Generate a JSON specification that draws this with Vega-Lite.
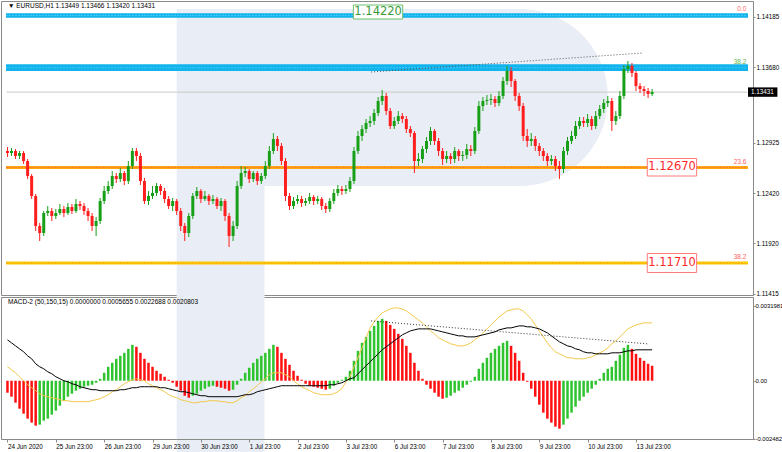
{
"$schema": "https://vega.github.io/schema/vega-lite/v6.json",
"padding": 0,
"background": "white",
"spacing": 2,
"bounds": "flush",
"config": {"view": {"stroke": "#8a8a8a", "strokeWidth": 1}, "axis": {"grid": false, "labelFont": "Liberation Sans", "labelFontSize": 6.3, "labelColor": "#000000", "domainColor": "#8a8a8a", "tickColor": "#8a8a8a"}},
"datasets": {"c": [
{"i":0,"o":1.12842,"h":1.12882,"l":1.12782,"c":1.12822,"m":-0.000512,"hd":"r","a":0.001748,"s":0.000597},
{"i":2,"o":1.12822,"h":1.12872,"l":1.12792,"c":1.12842,"m":-0.000682,"hd":"r","a":0.00162,"s":0.000469},
{"i":4,"o":1.12842,"h":1.12862,"l":1.12762,"c":1.12792,"m":-0.000938,"hd":"r","a":0.001492,"s":0.000341},
{"i":6,"o":1.12792,"h":1.12842,"l":1.12762,"c":1.12822,"m":-0.001194,"hd":"r","a":0.001364,"s":0.000171},
{"i":8,"o":1.12822,"h":1.12842,"l":1.12712,"c":1.12742,"m":-0.001407,"hd":"r","a":0.001237,"s":0},
{"i":10,"o":1.12742,"h":1.12762,"l":1.12562,"c":1.12592,"m":-0.00162,"hd":"r","a":0.001066,"s":-0.000171},
{"i":12,"o":1.12592,"h":1.12612,"l":1.12362,"c":1.12392,"m":-0.001791,"hd":"r","a":0.000938,"s":-0.000298},
{"i":14,"o":1.12392,"h":1.12412,"l":1.12042,"c":1.12092,"m":-0.001919,"hd":"r","a":0.000725,"s":-0.000426},
{"i":16,"o":1.12092,"h":1.12122,"l":1.11942,"c":1.12022,"m":-0.001876,"hd":"g","a":0.000597,"s":-0.000554},
{"i":18,"o":1.12022,"h":1.12242,"l":1.11992,"c":1.12222,"m":-0.001706,"hd":"g","a":0.000512,"s":-0.00064},
{"i":20,"o":1.12222,"h":1.12292,"l":1.12192,"c":1.12242,"m":-0.00162,"hd":"g","a":0.000384,"s":-0.000682},
{"i":22,"o":1.12242,"h":1.12272,"l":1.12142,"c":1.12192,"m":-0.00145,"hd":"g","a":0.000298,"s":-0.000725},
{"i":24,"o":1.12192,"h":1.12262,"l":1.12162,"c":1.12222,"m":-0.001279,"hd":"g","a":0.000171,"s":-0.000768},
{"i":26,"o":1.12222,"h":1.12312,"l":1.12202,"c":1.12262,"m":-0.001066,"hd":"g","a":0.000085,"s":-0.00081},
{"i":28,"o":1.12262,"h":1.12292,"l":1.12182,"c":1.12222,"m":-0.000853,"hd":"g","a":0,"s":-0.000853},
{"i":30,"o":1.12222,"h":1.12322,"l":1.12202,"c":1.12282,"m":-0.000682,"hd":"g","a":-0.000043,"s":-0.000853},
{"i":32,"o":1.12282,"h":1.12312,"l":1.12212,"c":1.12242,"m":-0.000554,"hd":"g","a":-0.000128,"s":-0.000895},
{"i":34,"o":1.12242,"h":1.12362,"l":1.12222,"c":1.12312,"m":-0.000426,"hd":"g","a":-0.000171,"s":-0.000895},
{"i":36,"o":1.12312,"h":1.12342,"l":1.12252,"c":1.12292,"m":-0.000341,"hd":"g","a":-0.000256,"s":-0.000895},
{"i":38,"o":1.12292,"h":1.12322,"l":1.12202,"c":1.12242,"m":-0.000256,"hd":"g","a":-0.000298,"s":-0.000895},
{"i":40,"o":1.12242,"h":1.12272,"l":1.12142,"c":1.12192,"m":-0.000213,"hd":"g","a":-0.000341,"s":-0.000895},
{"i":42,"o":1.12192,"h":1.12222,"l":1.12042,"c":1.12092,"m":-0.000171,"hd":"g","a":-0.000384,"s":-0.000853},
{"i":44,"o":1.12092,"h":1.12182,"l":1.11992,"c":1.12142,"m":-0.000085,"hd":"g","a":-0.000384,"s":-0.00081},
{"i":46,"o":1.12142,"h":1.12372,"l":1.12112,"c":1.12342,"m":0.000085,"hd":"g","a":-0.000426,"s":-0.000768},
{"i":48,"o":1.12342,"h":1.12492,"l":1.12312,"c":1.12442,"m":0.000341,"hd":"g","a":-0.000426,"s":-0.000682},
{"i":50,"o":1.12442,"h":1.12542,"l":1.12412,"c":1.12492,"m":0.000597,"hd":"g","a":-0.000426,"s":-0.000597},
{"i":52,"o":1.12492,"h":1.12642,"l":1.12462,"c":1.12592,"m":0.000768,"hd":"g","a":-0.000426,"s":-0.000469},
{"i":54,"o":1.12592,"h":1.12622,"l":1.12522,"c":1.12562,"m":0.000938,"hd":"g","a":-0.000426,"s":-0.000384},
{"i":56,"o":1.12562,"h":1.12672,"l":1.12532,"c":1.12622,"m":0.001066,"hd":"g","a":-0.000384,"s":-0.000256},
{"i":58,"o":1.12622,"h":1.12642,"l":1.12502,"c":1.12542,"m":0.001194,"hd":"g","a":-0.000384,"s":-0.000128},
{"i":60,"o":1.12542,"h":1.12742,"l":1.12512,"c":1.12692,"m":0.001364,"hd":"g","a":-0.000341,"s":-0.000043},
{"i":62,"o":1.12692,"h":1.12872,"l":1.12662,"c":1.12842,"m":0.001535,"hd":"g","a":-0.000298,"s":0.000043},
{"i":64,"o":1.12842,"h":1.12872,"l":1.12742,"c":1.12792,"m":0.00145,"hd":"r","a":-0.000298,"s":0.000085},
{"i":66,"o":1.12792,"h":1.12822,"l":1.12502,"c":1.12542,"m":0.001194,"hd":"r","a":-0.000256,"s":0.000043},
{"i":68,"o":1.12542,"h":1.12572,"l":1.12312,"c":1.12342,"m":0.000938,"hd":"r","a":-0.000256,"s":0},
{"i":70,"o":1.12342,"h":1.12442,"l":1.12302,"c":1.12392,"m":0.000768,"hd":"r","a":-0.000256,"s":-0.000128},
{"i":72,"o":1.12392,"h":1.12492,"l":1.12362,"c":1.12422,"m":0.000597,"hd":"r","a":-0.000256,"s":-0.000213},
{"i":74,"o":1.12422,"h":1.12522,"l":1.12392,"c":1.12492,"m":0.000426,"hd":"r","a":-0.000256,"s":-0.000298},
{"i":76,"o":1.12492,"h":1.12512,"l":1.12402,"c":1.12442,"m":0.000298,"hd":"r","a":-0.000298,"s":-0.000384},
{"i":78,"o":1.12442,"h":1.12472,"l":1.12322,"c":1.12362,"m":0.000171,"hd":"r","a":-0.000298,"s":-0.000469},
{"i":80,"o":1.12362,"h":1.12392,"l":1.12262,"c":1.12292,"m":0.000043,"hd":"r","a":-0.000341,"s":-0.000597},
{"i":82,"o":1.12292,"h":1.12372,"l":1.12242,"c":1.12342,"m":-0.000085,"hd":"r","a":-0.000384,"s":-0.000682},
{"i":84,"o":1.12342,"h":1.12362,"l":1.12202,"c":1.12242,"m":-0.000256,"hd":"r","a":-0.000426,"s":-0.000725},
{"i":86,"o":1.12242,"h":1.12272,"l":1.12042,"c":1.12092,"m":-0.000426,"hd":"r","a":-0.000469,"s":-0.00081},
{"i":88,"o":1.12092,"h":1.12122,"l":1.11942,"c":1.12022,"m":-0.00064,"hd":"r","a":-0.000469,"s":-0.000853},
{"i":90,"o":1.12022,"h":1.12222,"l":1.11982,"c":1.12192,"m":-0.000725,"hd":"r","a":-0.000512,"s":-0.000895},
{"i":92,"o":1.12192,"h":1.12422,"l":1.12162,"c":1.12392,"m":-0.00064,"hd":"g","a":-0.000554,"s":-0.000938},
{"i":94,"o":1.12392,"h":1.12482,"l":1.12362,"c":1.12442,"m":-0.000554,"hd":"g","a":-0.000597,"s":-0.000938},
{"i":96,"o":1.12442,"h":1.12462,"l":1.12322,"c":1.12362,"m":-0.000426,"hd":"g","a":-0.00064,"s":-0.000895},
{"i":98,"o":1.12362,"h":1.12442,"l":1.12342,"c":1.12392,"m":-0.000341,"hd":"g","a":-0.00064,"s":-0.000895},
{"i":100,"o":1.12392,"h":1.12412,"l":1.12302,"c":1.12342,"m":-0.000256,"hd":"g","a":-0.000682,"s":-0.000853},
{"i":102,"o":1.12342,"h":1.12402,"l":1.12312,"c":1.12362,"m":-0.000213,"hd":"g","a":-0.000682,"s":-0.000853},
{"i":104,"o":1.12362,"h":1.12382,"l":1.12262,"c":1.12292,"m":-0.000256,"hd":"r","a":-0.000682,"s":-0.000853},
{"i":106,"o":1.12292,"h":1.12372,"l":1.12242,"c":1.12342,"m":-0.000298,"hd":"r","a":-0.000682,"s":-0.000895},
{"i":108,"o":1.12342,"h":1.12362,"l":1.12142,"c":1.12192,"m":-0.000341,"hd":"r","a":-0.000682,"s":-0.000895},
{"i":110,"o":1.12192,"h":1.12222,"l":1.11882,"c":1.11992,"m":-0.000426,"hd":"r","a":-0.000682,"s":-0.000938},
{"i":112,"o":1.11992,"h":1.12142,"l":1.11942,"c":1.12092,"m":-0.000384,"hd":"g","a":-0.000682,"s":-0.000938},
{"i":114,"o":1.12092,"h":1.12542,"l":1.12062,"c":1.12492,"m":-0.000171,"hd":"g","a":-0.000682,"s":-0.000853},
{"i":116,"o":1.12492,"h":1.12692,"l":1.12462,"c":1.12622,"m":0.000085,"hd":"g","a":-0.00064,"s":-0.000725},
{"i":118,"o":1.12622,"h":1.12682,"l":1.12582,"c":1.12642,"m":0.000341,"hd":"g","a":-0.000597,"s":-0.00064},
{"i":120,"o":1.12642,"h":1.12662,"l":1.12522,"c":1.12562,"m":0.000554,"hd":"g","a":-0.000597,"s":-0.000469},
{"i":122,"o":1.12562,"h":1.12642,"l":1.12532,"c":1.12622,"m":0.000768,"hd":"g","a":-0.000554,"s":-0.000341},
{"i":124,"o":1.12622,"h":1.12642,"l":1.12502,"c":1.12542,"m":0.000938,"hd":"g","a":-0.000469,"s":-0.000213},
{"i":126,"o":1.12542,"h":1.12622,"l":1.12512,"c":1.12592,"m":0.001066,"hd":"g","a":-0.000426,"s":-0.000043},
{"i":128,"o":1.12592,"h":1.12742,"l":1.12562,"c":1.12692,"m":0.001194,"hd":"g","a":-0.000384,"s":0.000085},
{"i":130,"o":1.12692,"h":1.12892,"l":1.12662,"c":1.12842,"m":0.001364,"hd":"g","a":-0.000341,"s":0.000256},
{"i":132,"o":1.12842,"h":1.13022,"l":1.12812,"c":1.12962,"m":0.001535,"hd":"g","a":-0.000298,"s":0.000341},
{"i":134,"o":1.12962,"h":1.12992,"l":1.12842,"c":1.12892,"m":0.00145,"hd":"r","a":-0.000256,"s":0.000341},
{"i":136,"o":1.12892,"h":1.12922,"l":1.12702,"c":1.12742,"m":0.001194,"hd":"r","a":-0.000213,"s":0.000341},
{"i":138,"o":1.12742,"h":1.12772,"l":1.12342,"c":1.12392,"m":0.000938,"hd":"r","a":-0.000213,"s":0.000256},
{"i":140,"o":1.12392,"h":1.12422,"l":1.12252,"c":1.12292,"m":0.000682,"hd":"r","a":-0.000213,"s":0.000171},
{"i":142,"o":1.12292,"h":1.12382,"l":1.12262,"c":1.12342,"m":0.000426,"hd":"r","a":-0.000213,"s":0},
{"i":144,"o":1.12342,"h":1.12402,"l":1.12312,"c":1.12362,"m":0.000213,"hd":"r","a":-0.000213,"s":-0.000128},
{"i":146,"o":1.12362,"h":1.12392,"l":1.12282,"c":1.12322,"m":0.000043,"hd":"r","a":-0.000213,"s":-0.000256},
{"i":148,"o":1.12322,"h":1.12372,"l":1.12292,"c":1.12342,"m":-0.000128,"hd":"r","a":-0.000213,"s":-0.000341},
{"i":150,"o":1.12342,"h":1.12422,"l":1.12312,"c":1.12382,"m":-0.000213,"hd":"r","a":-0.000213,"s":-0.000426},
{"i":152,"o":1.12382,"h":1.12402,"l":1.12302,"c":1.12342,"m":-0.000256,"hd":"r","a":-0.000213,"s":-0.000512},
{"i":154,"o":1.12342,"h":1.12392,"l":1.12312,"c":1.12362,"m":-0.000298,"hd":"r","a":-0.000213,"s":-0.000554},
{"i":156,"o":1.12362,"h":1.12382,"l":1.12252,"c":1.12292,"m":-0.000341,"hd":"r","a":-0.000213,"s":-0.000597},
{"i":158,"o":1.12292,"h":1.12322,"l":1.12222,"c":1.12262,"m":-0.000384,"hd":"r","a":-0.000213,"s":-0.000597},
{"i":160,"o":1.12262,"h":1.12372,"l":1.12232,"c":1.12342,"m":-0.000341,"hd":"g","a":-0.000171,"s":-0.000597},
{"i":162,"o":1.12342,"h":1.12462,"l":1.12312,"c":1.12422,"m":-0.000213,"hd":"g","a":-0.000171,"s":-0.000554},
{"i":164,"o":1.12422,"h":1.12502,"l":1.12392,"c":1.12462,"m":-0.000085,"hd":"g","a":-0.000128,"s":-0.000469},
{"i":166,"o":1.12462,"h":1.12492,"l":1.12402,"c":1.12442,"m":0.000043,"hd":"g","a":-0.000085,"s":-0.000341},
{"i":168,"o":1.12442,"h":1.12502,"l":1.12412,"c":1.12462,"m":0.000171,"hd":"g","a":0,"s":-0.000043},
{"i":170,"o":1.12462,"h":1.12582,"l":1.12432,"c":1.12542,"m":0.000426,"hd":"g","a":0.000085,"s":0.000171},
{"i":172,"o":1.12542,"h":1.12882,"l":1.12512,"c":1.12842,"m":0.000853,"hd":"g","a":0.000128,"s":0.000597},
{"i":174,"o":1.12842,"h":1.13042,"l":1.12812,"c":1.12992,"m":0.001279,"hd":"g","a":0.000298,"s":0.000981},
{"i":176,"o":1.12992,"h":1.13102,"l":1.12942,"c":1.13062,"m":0.00162,"hd":"g","a":0.000469,"s":0.001407},
{"i":178,"o":1.13062,"h":1.13162,"l":1.13022,"c":1.13122,"m":0.001876,"hd":"g","a":0.00064,"s":0.001834},
{"i":180,"o":1.13122,"h":1.13192,"l":1.13082,"c":1.13142,"m":0.002132,"hd":"g","a":0.00081,"s":0.00226},
{"i":182,"o":1.13142,"h":1.13262,"l":1.13102,"c":1.13222,"m":0.002345,"hd":"g","a":0.000981,"s":0.002516},
{"i":184,"o":1.13222,"h":1.13382,"l":1.13192,"c":1.13342,"m":0.002558,"hd":"g","a":0.001151,"s":0.002729},
{"i":186,"o":1.13342,"h":1.13452,"l":1.13302,"c":1.13392,"m":0.002644,"hd":"g","a":0.001322,"s":0.0029},
{"i":188,"o":1.13392,"h":1.13422,"l":1.13202,"c":1.13242,"m":0.002558,"hd":"r","a":0.00145,"s":0.002985},
{"i":190,"o":1.13242,"h":1.13272,"l":1.13062,"c":1.13092,"m":0.002388,"hd":"r","a":0.001578,"s":0.00307},
{"i":192,"o":1.13092,"h":1.13182,"l":1.13062,"c":1.13142,"m":0.002217,"hd":"r","a":0.001706,"s":0.003113},
{"i":194,"o":1.13142,"h":1.13242,"l":1.13112,"c":1.13192,"m":0.002004,"hd":"r","a":0.001834,"s":0.003113},
{"i":196,"o":1.13192,"h":1.13222,"l":1.13122,"c":1.13162,"m":0.001791,"hd":"r","a":0.001961,"s":0.00307},
{"i":198,"o":1.13162,"h":1.13192,"l":1.13022,"c":1.13062,"m":0.001492,"hd":"r","a":0.002047,"s":0.002985},
{"i":200,"o":1.13062,"h":1.13092,"l":1.12982,"c":1.13022,"m":0.001194,"hd":"r","a":0.002132,"s":0.002857},
{"i":202,"o":1.13022,"h":1.13042,"l":1.12622,"c":1.12742,"m":0.000768,"hd":"r","a":0.002175,"s":0.002729},
{"i":204,"o":1.12742,"h":1.12822,"l":1.12692,"c":1.12762,"m":0.000426,"hd":"r","a":0.002217,"s":0.002601},
{"i":206,"o":1.12762,"h":1.12892,"l":1.12722,"c":1.12862,"m":0.000085,"hd":"r","a":0.002217,"s":0.002473},
{"i":208,"o":1.12862,"h":1.12982,"l":1.12822,"c":1.12942,"m":-0.000171,"hd":"r","a":0.002217,"s":0.002303},
{"i":210,"o":1.12942,"h":1.13082,"l":1.12902,"c":1.13042,"m":-0.000341,"hd":"r","a":0.002217,"s":0.002132},
{"i":212,"o":1.13042,"h":1.13062,"l":1.12902,"c":1.12942,"m":-0.000512,"hd":"r","a":0.002175,"s":0.002004},
{"i":214,"o":1.12942,"h":1.12972,"l":1.12792,"c":1.12842,"m":-0.000682,"hd":"r","a":0.002132,"s":0.001834},
{"i":216,"o":1.12842,"h":1.12872,"l":1.12702,"c":1.12762,"m":-0.000768,"hd":"r","a":0.002089,"s":0.001748},
{"i":218,"o":1.12762,"h":1.12842,"l":1.12722,"c":1.12792,"m":-0.000725,"hd":"g","a":0.002047,"s":0.001663},
{"i":220,"o":1.12792,"h":1.12822,"l":1.12712,"c":1.12762,"m":-0.00064,"hd":"g","a":0.002004,"s":0.001578},
{"i":222,"o":1.12762,"h":1.12882,"l":1.12722,"c":1.12842,"m":-0.000512,"hd":"g","a":0.001961,"s":0.001535},
{"i":224,"o":1.12842,"h":1.12862,"l":1.12742,"c":1.12792,"m":-0.000426,"hd":"g","a":0.001919,"s":0.001492},
{"i":226,"o":1.12792,"h":1.12842,"l":1.12742,"c":1.12802,"m":-0.000298,"hd":"g","a":0.001919,"s":0.001492},
{"i":228,"o":1.12802,"h":1.12912,"l":1.12762,"c":1.12862,"m":-0.000171,"hd":"g","a":0.001876,"s":0.001535},
{"i":230,"o":1.12862,"h":1.12902,"l":1.12792,"c":1.12842,"m":-0.000043,"hd":"g","a":0.001876,"s":0.00162},
{"i":232,"o":1.12842,"h":1.13082,"l":1.12812,"c":1.13042,"m":0.000171,"hd":"g","a":0.001876,"s":0.001748},
{"i":234,"o":1.13042,"h":1.13342,"l":1.13012,"c":1.13292,"m":0.000512,"hd":"g","a":0.001919,"s":0.001876},
{"i":236,"o":1.13292,"h":1.13382,"l":1.13242,"c":1.13342,"m":0.000768,"hd":"g","a":0.001961,"s":0.002047},
{"i":238,"o":1.13342,"h":1.13402,"l":1.13302,"c":1.13352,"m":0.000981,"hd":"g","a":0.002004,"s":0.002217},
{"i":240,"o":1.13352,"h":1.13412,"l":1.13302,"c":1.13362,"m":0.001194,"hd":"g","a":0.002047,"s":0.002388},
{"i":242,"o":1.13362,"h":1.13392,"l":1.13282,"c":1.13322,"m":0.001364,"hd":"g","a":0.002089,"s":0.002558},
{"i":244,"o":1.13322,"h":1.13442,"l":1.13292,"c":1.13392,"m":0.001492,"hd":"g","a":0.002175,"s":0.002729},
{"i":246,"o":1.13392,"h":1.13582,"l":1.13362,"c":1.13542,"m":0.00162,"hd":"g","a":0.002217,"s":0.002857},
{"i":248,"o":1.13542,"h":1.13692,"l":1.13502,"c":1.13642,"m":0.001706,"hd":"g","a":0.00226,"s":0.002985},
{"i":250,"o":1.13642,"h":1.13682,"l":1.13482,"c":1.13542,"m":0.001492,"hd":"r","a":0.00226,"s":0.003027},
{"i":252,"o":1.13542,"h":1.13562,"l":1.13342,"c":1.13392,"m":0.001194,"hd":"r","a":0.002303,"s":0.00307},
{"i":254,"o":1.13392,"h":1.13422,"l":1.13242,"c":1.13292,"m":0.000853,"hd":"r","a":0.002345,"s":0.00307},
{"i":256,"o":1.13292,"h":1.13322,"l":1.12942,"c":1.12992,"m":0.000341,"hd":"r","a":0.002345,"s":0.002985},
{"i":258,"o":1.12992,"h":1.13062,"l":1.12882,"c":1.12942,"m":-0.000043,"hd":"r","a":0.002303,"s":0.002814},
{"i":260,"o":1.12942,"h":1.13022,"l":1.12892,"c":1.12962,"m":-0.000341,"hd":"r","a":0.002303,"s":0.002644},
{"i":262,"o":1.12962,"h":1.12992,"l":1.12842,"c":1.12892,"m":-0.000682,"hd":"r","a":0.00226,"s":0.002388},
{"i":264,"o":1.12892,"h":1.12922,"l":1.12792,"c":1.12842,"m":-0.001023,"hd":"r","a":0.002217,"s":0.002132},
{"i":266,"o":1.12842,"h":1.12872,"l":1.12742,"c":1.12792,"m":-0.001364,"hd":"r","a":0.002132,"s":0.001876},
{"i":268,"o":1.12792,"h":1.12822,"l":1.12692,"c":1.12742,"m":-0.00162,"hd":"r","a":0.002047,"s":0.00162},
{"i":270,"o":1.12742,"h":1.12802,"l":1.12702,"c":1.12762,"m":-0.001791,"hd":"r","a":0.001919,"s":0.001407},
{"i":272,"o":1.12762,"h":1.12792,"l":1.12642,"c":1.12692,"m":-0.001961,"hd":"r","a":0.001791,"s":0.001237},
{"i":274,"o":1.12692,"h":1.12742,"l":1.12562,"c":1.12662,"m":-0.002047,"hd":"r","a":0.001663,"s":0.001151},
{"i":276,"o":1.12662,"h":1.12882,"l":1.12622,"c":1.12842,"m":-0.001876,"hd":"g","a":0.001578,"s":0.001066},
{"i":278,"o":1.12842,"h":1.12982,"l":1.12802,"c":1.12942,"m":-0.00162,"hd":"g","a":0.001492,"s":0.000981},
{"i":280,"o":1.12942,"h":1.13042,"l":1.12912,"c":1.12992,"m":-0.001364,"hd":"g","a":0.00145,"s":0.000981},
{"i":282,"o":1.12992,"h":1.13142,"l":1.12962,"c":1.13092,"m":-0.001109,"hd":"g","a":0.001364,"s":0.000938},
{"i":284,"o":1.13092,"h":1.13182,"l":1.13062,"c":1.13142,"m":-0.000853,"hd":"g","a":0.001322,"s":0.000938},
{"i":286,"o":1.13142,"h":1.13182,"l":1.13082,"c":1.13122,"m":-0.000682,"hd":"g","a":0.001237,"s":0.000938},
{"i":288,"o":1.13122,"h":1.13212,"l":1.13082,"c":1.13162,"m":-0.000512,"hd":"g","a":0.001194,"s":0.000981},
{"i":290,"o":1.13162,"h":1.13192,"l":1.13052,"c":1.13092,"m":-0.000341,"hd":"g","a":0.001194,"s":0.001023},
{"i":292,"o":1.13092,"h":1.13242,"l":1.13062,"c":1.13192,"m":-0.000171,"hd":"g","a":0.001151,"s":0.001109},
{"i":294,"o":1.13192,"h":1.13302,"l":1.13162,"c":1.13262,"m":0.000085,"hd":"g","a":0.001151,"s":0.001194},
{"i":296,"o":1.13262,"h":1.13362,"l":1.13222,"c":1.13322,"m":0.000341,"hd":"g","a":0.001151,"s":0.001279},
{"i":298,"o":1.13322,"h":1.13392,"l":1.13282,"c":1.13342,"m":0.000512,"hd":"g","a":0.001151,"s":0.001407},
{"i":300,"o":1.13342,"h":1.13372,"l":1.13042,"c":1.13142,"m":0.000597,"hd":"g","a":0.001194,"s":0.001578},
{"i":302,"o":1.13142,"h":1.13242,"l":1.13102,"c":1.13192,"m":0.000853,"hd":"g","a":0.001194,"s":0.001706},
{"i":304,"o":1.13192,"h":1.13442,"l":1.13162,"c":1.13392,"m":0.001109,"hd":"g","a":0.001194,"s":0.001876},
{"i":306,"o":1.13392,"h":1.13702,"l":1.13362,"c":1.13662,"m":0.001407,"hd":"g","a":0.001237,"s":0.002047},
{"i":308,"o":1.13662,"h":1.13742,"l":1.13622,"c":1.13692,"m":0.001535,"hd":"g","a":0.001279,"s":0.002217},
{"i":310,"o":1.13692,"h":1.13722,"l":1.13582,"c":1.13622,"m":0.001364,"hd":"r","a":0.001279,"s":0.002303},
{"i":312,"o":1.13622,"h":1.13642,"l":1.13442,"c":1.13492,"m":0.001151,"hd":"r","a":0.001322,"s":0.002388},
{"i":314,"o":1.13492,"h":1.13522,"l":1.13422,"c":1.13462,"m":0.000981,"hd":"r","a":0.001322,"s":0.00243},
{"i":316,"o":1.13462,"h":1.13492,"l":1.13392,"c":1.13442,"m":0.000853,"hd":"r","a":0.001322,"s":0.002473},
{"i":318,"o":1.13442,"h":1.13472,"l":1.13372,"c":1.13412,"m":0.000725,"hd":"r","a":0.001322,"s":0.002473},
{"i":320,"o":1.13412,"h":1.13462,"l":1.13392,"c":1.13432,"m":0.00064,"hd":"r","a":0.001322,"s":0.002473}
]},
"vconcat": [
{
"width": 752,
"height": 294,
"layer": [
{"data": {"values": [{}]}, "mark": {"type": "rect", "color": "#e9edf5"},
 "encoding": {"x": {"datum": 84, "type": "quantitative", "scale": {"domain": [-0.73, 367.6], "nice": false, "zero": false}, "axis": null}, "x2": {"datum": 127.6},
  "y": {"datum": 1.14262, "type": "quantitative", "scale": {"domain": [1.11402, 1.14342], "nice": false, "zero": false}}, "y2": {"datum": 1.11382}}},
{"data": {"values": [{}]}, "mark": {"type": "rect", "color": "#e9edf5", "cornerRadiusTopRight": 88, "cornerRadiusBottomRight": 88},
 "encoding": {"x": {"datum": 127, "type": "quantitative", "axis": null}, "x2": {"datum": 298},
  "y": {"datum": 1.14262, "type": "quantitative"}, "y2": {"datum": 1.12492}}},
{"data": {"values": [{}]}, "mark": {"type": "rect", "color": "#12b4ee"},
 "encoding": {"x": {"datum": -0.73, "type": "quantitative", "axis": null}, "x2": {"datum": 367.6}, "y": {"datum": 1.14219, "type": "quantitative"}, "y2": {"datum": 1.14175}}},
{"data": {"values": [{}]}, "mark": {"type": "rect", "color": "#12b4ee"},
 "encoding": {"x": {"datum": -0.73, "type": "quantitative", "axis": null}, "x2": {"datum": 367.6}, "y": {"datum": 1.13709, "type": "quantitative"}, "y2": {"datum": 1.13642}}},
{"data": {"values": [{}]}, "mark": {"type": "rect", "color": "#ffa812"},
 "encoding": {"x": {"datum": -0.73, "type": "quantitative", "axis": null}, "x2": {"datum": 367.6}, "y": {"datum": 1.12692, "type": "quantitative"}, "y2": {"datum": 1.12662}}},
{"data": {"values": [{}]}, "mark": {"type": "rect", "color": "#ffcc00"},
 "encoding": {"x": {"datum": -0.73, "type": "quantitative", "axis": null}, "x2": {"datum": 367.6}, "y": {"datum": 1.11737, "type": "quantitative"}, "y2": {"datum": 1.11707}}},
{"data": {"values": [{"p": 1.14197, "k": "b"}, {"p": 1.13675, "k": "b"}, {"p": 1.12677, "k": "o"}, {"p": 1.11722, "k": "y"}]},
 "mark": {"type": "rule", "strokeWidth": 1, "strokeDash": [1, 2]},
 "encoding": {"x": {"datum": -0.48, "type": "quantitative", "axis": null}, "x2": {"datum": 367.35}, "y": {"field": "p", "type": "quantitative"},
  "color": {"condition": [{"test": "datum.k == 'b'", "value": "#6fd6fa"}, {"test": "datum.k == 'o'", "value": "#ff5050"}], "value": "#ff7a30"}}},
{"data": {"values": [{}]}, "mark": {"type": "rule", "color": "#c8c8c8", "strokeWidth": 1},
 "encoding": {"x": {"datum": -0.48, "type": "quantitative", "axis": null}, "x2": {"datum": 367.35}, "y": {"datum": 1.13431, "type": "quantitative"}}},
{"data": {"values": [{}]}, "mark": {"type": "rule", "color": "#555555", "strokeWidth": 1, "strokeDash": [1, 2]},
 "encoding": {"x": {"datum": 180.5, "type": "quantitative", "axis": null}, "x2": {"datum": 315.2}, "y": {"datum": 1.13632, "type": "quantitative"}, "y2": {"datum": 1.13822}}},
{"data": {"name": "c"}, "mark": {"type": "rule", "strokeWidth": 1},
 "encoding": {"x": {"field": "i", "type": "quantitative", "axis": null}, "y": {"field": "l", "type": "quantitative"}, "y2": {"field": "h"},
  "color": {"condition": {"test": "datum.c > datum.o", "value": "#17a017"}, "value": "#ff1e1e"}}},
{"data": {"name": "c"}, "mark": {"type": "bar", "size": 3},
 "encoding": {"x": {"field": "i", "type": "quantitative", "scale": {"domain": [-0.73, 367.6], "nice": false, "zero": false}, "axis": null},
  "y": {"field": "o", "type": "quantitative", "scale": {"domain": [1.11402, 1.14342], "nice": false, "zero": false},
   "axis": {"orient": "right", "title": null, "values": [1.14185, 1.1393, 1.1368, 1.13175, 1.12925, 1.12675, 1.1242, 1.1217, 1.1192, 1.11665, 1.11415], "format": ".5f", "tickSize": 2, "labelPadding": 1, "labelOverlap": false, "labelBound": false, "labelFlush": false, "grid": false}},
  "y2": {"field": "c"},
  "color": {"condition": {"test": "datum.c > datum.o", "value": "#17a017"}, "value": "#ff1e1e"}}},
{"data": {"values": [{}]}, "mark": {"type": "rect", "fill": "#ffffff", "stroke": "#6cbf6c", "strokeWidth": 1},
 "encoding": {"x": {"datum": 171.7, "type": "quantitative", "axis": null}, "x2": {"datum": 196.2}, "y": {"datum": 1.14302, "type": "quantitative"}, "y2": {"datum": 1.14162}}},
{"data": {"values": [{}]}, "mark": {"type": "text", "text": "1.14220", "font": "DejaVu Sans", "fontSize": 11.5, "color": "#3a9a3a", "align": "center", "baseline": "middle"},
 "encoding": {"x": {"datum": 184, "type": "quantitative", "axis": null}, "y": {"datum": 1.14231, "type": "quantitative"}}},
{"data": {"values": [{}]}, "mark": {"type": "rect", "fill": "#ffffff", "stroke": "#ff7a7a", "strokeWidth": 1},
 "encoding": {"x": {"datum": 317.6, "type": "quantitative", "axis": null}, "x2": {"datum": 342.1}, "y": {"datum": 1.12767, "type": "quantitative"}, "y2": {"datum": 1.12592}}},
{"data": {"values": [{}]}, "mark": {"type": "text", "text": "1.12670", "font": "DejaVu Sans", "fontSize": 11.5, "color": "#ff2a2a", "align": "center", "baseline": "middle"},
 "encoding": {"x": {"datum": 329.9, "type": "quantitative", "axis": null}, "y": {"datum": 1.12679, "type": "quantitative"}}},
{"data": {"values": [{}]}, "mark": {"type": "rect", "fill": "#ffffff", "stroke": "#ff7a7a", "strokeWidth": 1},
 "encoding": {"x": {"datum": 317.6, "type": "quantitative", "axis": null}, "x2": {"datum": 342.1}, "y": {"datum": 1.11817, "type": "quantitative"}, "y2": {"datum": 1.11627}}},
{"data": {"values": [{}]}, "mark": {"type": "text", "text": "1.11710", "font": "DejaVu Sans", "fontSize": 11.5, "color": "#ff2a2a", "align": "center", "baseline": "middle"},
 "encoding": {"x": {"datum": 329.9, "type": "quantitative", "axis": null}, "y": {"datum": 1.11722, "type": "quantitative"}}},
{"data": {"values": [{"t": "0.0", "p": 1.14198, "k": "r"}, {"t": "38.2", "p": 1.13675, "k": "g"}, {"t": "23.6", "p": 1.12677, "k": "r"}, {"t": "38.2", "p": 1.11722, "k": "r"}]},
 "mark": {"type": "text", "font": "Liberation Sans", "fontSize": 6.5, "align": "right", "baseline": "bottom", "dy": -3},
 "encoding": {"x": {"datum": 366.8, "type": "quantitative", "axis": null}, "y": {"field": "p", "type": "quantitative"}, "text": {"field": "t"},
  "color": {"condition": {"test": "datum.k == 'g'", "value": "#5fb34a"}, "value": "#ff6464"}}},
{"data": {"values": [{}]}, "mark": {"type": "rect", "fill": "#000000"},
 "encoding": {"x": {"datum": 367.6, "type": "quantitative", "axis": null}, "x2": {"datum": 382.2}, "y": {"datum": 1.13478, "type": "quantitative"}, "y2": {"datum": 1.13384}}},
{"data": {"values": [{}]}, "mark": {"type": "text", "text": "1.13431", "font": "Liberation Sans", "fontSize": 6.3, "color": "#ffffff", "align": "left", "baseline": "middle"},
 "encoding": {"x": {"datum": 369.1, "type": "quantitative", "axis": null}, "y": {"datum": 1.13431, "type": "quantitative"}}},
{"data": {"values": [{}]}, "mark": {"type": "text", "text": "▼ EURUSD,H1  1.13449 1.13466 1.13420 1.13431", "font": "Liberation Sans", "fontSize": 6.5, "color": "#000000", "align": "left", "baseline": "top", "dx": 2, "dy": 2},
 "encoding": {"x": {"datum": -0.73, "type": "quantitative", "axis": null}, "y": {"datum": 1.14342, "type": "quantitative"}}}
]
},
{
"width": 752,
"height": 142,
"layer": [
{"data": {"values": [{}]}, "mark": {"type": "rect", "color": "#e9edf5"},
 "encoding": {"x": {"datum": 84, "type": "quantitative", "scale": {"domain": [-0.73, 367.6], "nice": false, "zero": false}}, "x2": {"datum": 127.6},
  "y": {"datum": 0.00358, "type": "quantitative", "scale": {"domain": [-0.00249, 0.00358], "nice": false, "zero": false}}, "y2": {"datum": -0.0031}}},
{"data": {"name": "c"}, "mark": {"type": "bar", "size": 2.5},
 "encoding": {"x": {"field": "i", "type": "quantitative", "scale": {"domain": [-0.73, 367.6], "nice": false, "zero": false},
   "axis": {"orient": "bottom", "title": null, "zindex": 1, "values": [0, 24, 48, 72, 96, 120, 144, 168, 192, 216, 240, 264, 288, 312], "labelExpr": "['24 Jun 2020','25 Jun 23:00','26 Jun 23:00','29 Jun 23:00','30 Jun 23:00','1 Jul 23:00','2 Jul 23:00','3 Jul 23:00','6 Jul 23:00','7 Jul 23:00','8 Jul 23:00','9 Jul 23:00','10 Jul 23:00','13 Jul 23:00'][round(datum.value/24)]", "labelAlign": "left", "tickSize": 3, "labelPadding": 1, "labelOverlap": false, "labelBound": false, "labelFlush": false, "grid": false}},
  "y": {"field": "m", "type": "quantitative", "scale": {"domain": [-0.00249, 0.00358], "nice": false, "zero": false},
   "axis": {"orient": "right", "title": null, "values": [0.0031981, 0, -0.002482], "labelExpr": "datum.value > 0.003 ? '0.0031981' : (datum.value < -0.002 ? '-0.002482' : '0.00')", "labelFontSize": 5.9, "tickSize": 2, "labelPadding": 0, "labelOverlap": false, "labelBound": false, "labelFlush": false, "grid": false}},
  "color": {"condition": {"test": "datum.hd == 'g'", "value": "#2fc42f"}, "value": "#ff1010"}}},
{"data": {"name": "c"}, "mark": {"type": "line", "color": "#f3c94a", "strokeWidth": 1},
 "encoding": {"x": {"field": "i", "type": "quantitative"}, "y": {"field": "s", "type": "quantitative"}}},
{"data": {"name": "c"}, "mark": {"type": "line", "color": "#000000", "strokeWidth": 1},
 "encoding": {"x": {"field": "i", "type": "quantitative"}, "y": {"field": "a", "type": "quantitative"}}},
{"data": {"values": [{}]}, "mark": {"type": "rule", "color": "#333333", "strokeWidth": 1, "strokeDash": [1, 2]},
 "encoding": {"x": {"datum": 180.5, "type": "quantitative"}, "x2": {"datum": 317.6}, "y": {"datum": 0.002558, "type": "quantitative"}, "y2": {"datum": 0.001578}}},
{"data": {"values": [{}]}, "mark": {"type": "text", "text": "MACD-2 (50,150,15) 0.0000000 0.0005655 0.0022688 0.0020803", "font": "Liberation Sans", "fontSize": 6.5, "color": "#000000", "align": "left", "baseline": "top", "dx": 2, "dy": 2},
 "encoding": {"x": {"datum": -0.73, "type": "quantitative"}, "y": {"datum": 0.00358, "type": "quantitative"}}}
]
}
]
}
